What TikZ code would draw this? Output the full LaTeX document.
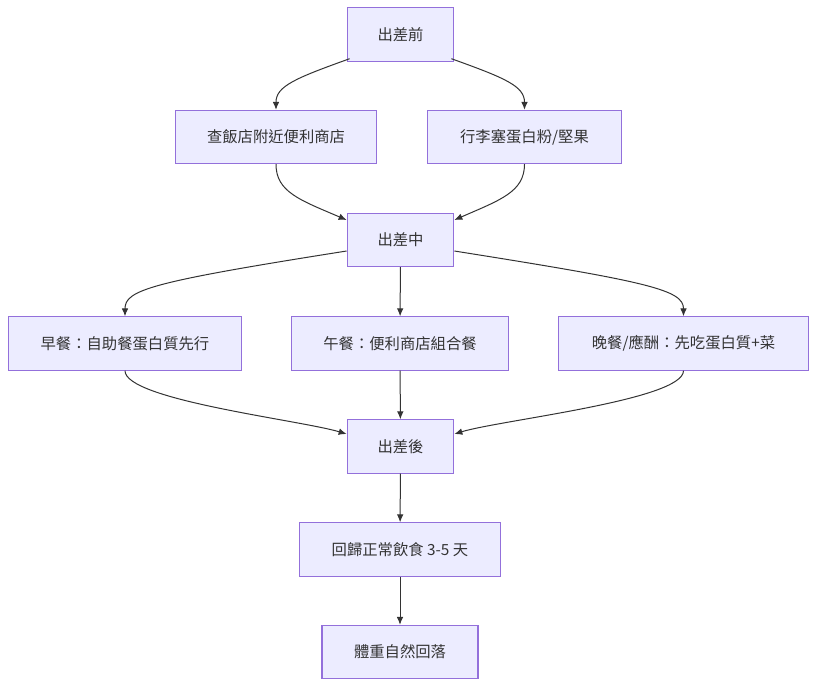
\documentclass[tikz,border=0pt]{standalone}
\usepackage{fontspec}
\setmainfont{Noto Sans CJK TC}
\usetikzlibrary{arrows.meta,positioning}
\definecolor{boxfill}{HTML}{ECECFF}
\definecolor{boxline}{HTML}{9370DB}
\definecolor{edgegray}{HTML}{333333}
\tikzset{
  paso/.style={
    draw=boxline,
    fill=boxfill,
    line width=0.8pt,
    align=center,
    inner xsep=22pt,
    minimum height=40pt,
    font=\fontsize{11.5}{14}\selectfont,
    text=edgegray
  },
  flecha/.style={
    -{Latex[length=6pt,width=5pt]},
    line width=0.75pt,
    edgegray
  }
}
\begin{document}
\begin{tikzpicture}[x=0.75pt,y=-0.75pt]
\useasboundingbox (0,0) rectangle (825,694);
% antes del viaje
\node[paso,minimum width=80pt] (pre) at (400.5,34.5) {出差前};
\node[paso,minimum width=151pt] (hotel) at (276,137) {查飯店附近便利商店};
\node[paso,minimum width=146pt] (bag) at (524.5,137) {行李塞蛋白粉/堅果};
% durante
\node[paso,minimum width=80pt] (mid) at (400.5,240) {出差中};
\node[paso,minimum width=175pt] (desayuno) at (125,343.5) {早餐：自助餐蛋白質先行};
\node[paso,minimum width=163pt] (almuerzo) at (400,343.5) {午餐：便利商店組合餐};
\node[paso,minimum width=188pt] (cena) at (683.5,343.5) {晚餐/應酬：先吃蛋白質+菜};
% despues
\node[paso,minimum width=80pt] (post) at (400.5,446.5) {出差後};
\node[paso,minimum width=151pt] (normal) at (400,549.5) {回歸正常飲食 3-5 天};
\node[paso,minimum width=117pt] (peso) at (400,652) {體重自然回落};

\draw[flecha] (pre.south west) ++(3,-3) .. controls (296,78) and (276,86) .. (hotel.north);
\draw[flecha] (pre.south east) ++(-3,-3) .. controls (505,78) and (524.5,86) .. (bag.north);
\draw[flecha] (hotel.south) .. controls (276,192) and (300,200) .. ([yshift=-3]mid.south west |- 0,216);
\draw[flecha] (bag.south) .. controls (524.5,192) and (500,200) .. ([yshift=-3]mid.south east |- 0,216);
\draw[flecha] (mid.west |- 0,251) .. controls (150,282) and (125,290) .. (desayuno.north);
\draw[flecha] (mid) -- (almuerzo);
\draw[flecha] (mid.east |- 0,251) .. controls (650,282) and (683.5,290) .. (cena.north);
\draw[flecha] (desayuno.south) .. controls (125,400) and (300,420) .. (post.west |- 0,434);
\draw[flecha] (almuerzo) -- (post);
\draw[flecha] (cena.south) .. controls (683.5,400) and (500,420) .. (post.east |- 0,434);
\draw[flecha] (post) -- (normal);
\draw[flecha] (normal) -- (peso);
\end{tikzpicture}
\end{document}
